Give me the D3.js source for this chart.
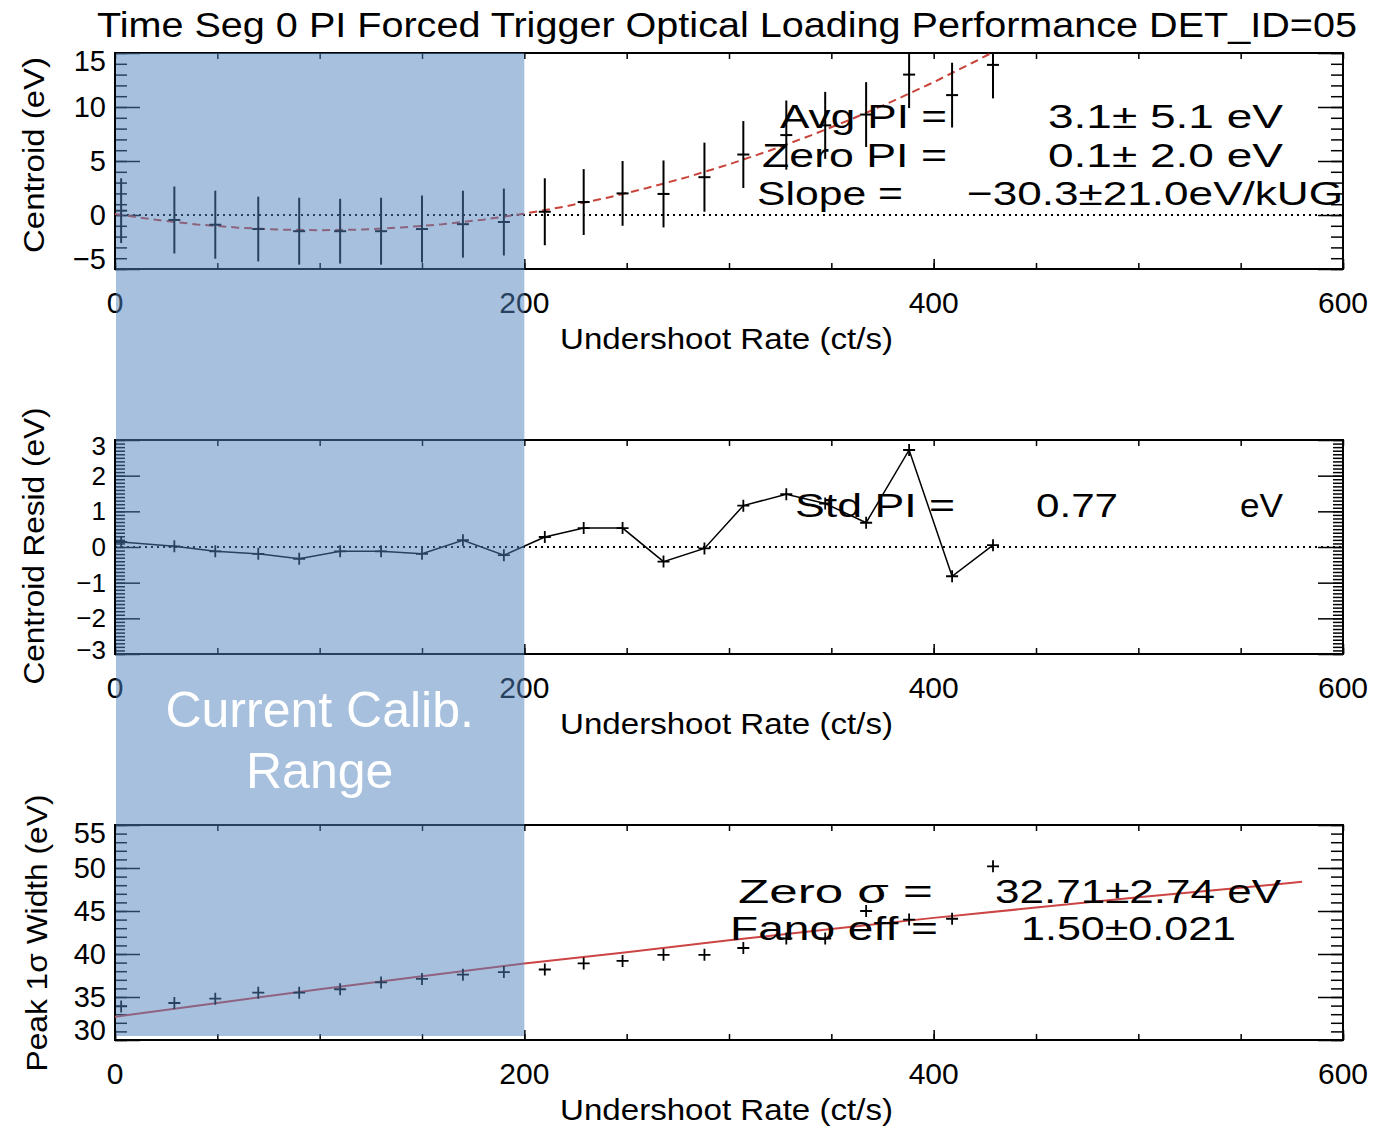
<!DOCTYPE html>
<html>
<head>
<meta charset="utf-8">
<script src="https://cdn.jsdelivr.net/npm/d3@7"></script>
<style>
  body { margin: 0; background: #fff; }
  svg text { font-family: "Liberation Sans", Arial, sans-serif; fill: #000; }
</style>
</head>
<body>
<svg width="1387" height="1127"></svg>
<script>
/**************************  DATA **************************/
// undershoot rate bin centres (ct/s)
var rate = [3, 29, 49, 70, 90, 110, 130, 150, 170, 190, 210, 229, 248, 268, 288, 307, 328, 347, 367, 388, 409, 429];

// panel 1: centroid (eV) with half error bar
var centroid    = [0.4, -0.46, -0.9, -1.3, -1.5, -1.5, -1.5, -1.3, -0.85, -0.65, 0.3, 1.2, 2.0, 1.95, 3.5, 5.6, 7.4, 8.3, 9.3, 13.0, 11.1, 13.9];
var centroidErr = [3.0, 3.1, 3.15, 3.0, 3.1, 3.0, 3.1, 3.1, 3.1, 3.1, 3.1, 3.05, 3.0, 3.1, 3.2, 3.1, 3.2, 3.1, 3.0, 3.1, 3.0, 3.1];

// red dashed fit, sampled along the drawn curve
var fitRate     = [0, 20, 40, 60, 80, 100, 120, 140, 160, 180, 200, 220, 240, 260, 280, 300, 320, 340, 360, 380, 400, 420, 428];
var centroidFit = [0.1, -0.45, -0.87, -1.17, -1.35, -1.41, -1.35, -1.16, -0.86, -0.43, 0.12, 0.79, 1.58, 2.50, 3.53, 4.69, 5.97, 7.37, 8.89, 10.54, 12.30, 14.19, 14.98];

// panel 2: centroid residual (eV)
var resid = [0.14, 0.02, -0.12, -0.19, -0.33, -0.12, -0.12, -0.19, 0.19, -0.23, 0.28, 0.53, 0.53, -0.41, -0.04, 1.16, 1.48, 1.22, 0.68, 2.72, -0.82, 0.05];

// panel 3: peak 1 sigma width (eV) and red fit line
var peakWidth    = [33.9, 34.3, 34.8, 35.5, 35.5, 35.9, 36.7, 37.1, 37.6, 37.9, 38.2, 38.9, 39.2, 39.9, 39.9, 40.7, 41.8, 41.8, 45.0, 44.0, 44.1, 50.2];
var widthFitRate = [0, 50, 100, 150, 200, 250, 300, 350, 400, 450, 500, 550, 580];
var widthFit     = [32.7, 34.3, 35.9, 37.4, 38.9, 40.2, 41.6, 42.9, 44.2, 45.4, 46.6, 47.7, 48.4];

// axes
var xTickVals = [0, 200, 400, 600];
var topTicks  = [15, 10, 5, 0, -5];
var midTicks  = [3, 2, 1, 0, -1, -2, -3];
var botTicks  = [55, 50, 45, 40, 35, 30];
var yTitles   = ["Centroid (eV)", "Centroid Resid (eV)", "Peak 1\u03c3 Width (eV)"];
var xTitle    = "Undershoot Rate (ct/s)";
var mainTitle = "Time Seg 0 PI Forced Trigger Optical Loading Performance DET_ID=05";
var calibRange = [0, 200];
var calibLabel = ["Current Calib.", "Range"];

// fit annotations
var topNotes = ["Avg PI =", "3.1\u00b1 5.1 eV", "Zero PI =", "0.1\u00b1 2.0 eV", "Slope =", "\u221230.3\u00b121.0eV/kUG"];
var midNotes = ["Std PI =", "0.77", "eV"];
var botNotes = ["Zero \u03c3  =", "32.71\u00b12.74 eV", "Fano eff =", "1.50\u00b10.021"];

/**************************  LAYOUT **************************/
var svg = d3.select("svg");
var PL = 115, PR = 1343;
var x = d3.scaleLinear().domain([0, 600]).range([PL, PR]);

// lpad = how far the end tick labels are pulled inside the box
var panels = [
  {top: 53,  bot: 269,  dom: [-5, 15], major: 5, minor: 1,   minorLen: 12, ticks: topTicks, fs: 29, lpad: [8, 10], tx: 44, ty: 155, tlen: 196},
  {top: 440, bot: 654,  dom: [-3, 3],  major: 1, minor: 0.1, minorLen: 10, ticks: midTicks, fs: 26, lpad: [6, 4],  tx: 44, ty: 546, tlen: 277},
  {top: 825, bot: 1040, dom: [30, 55], major: 5, minor: 1,   minorLen: 12, ticks: botTicks, fs: 29, lpad: [8, 10], tx: 47, ty: 933, tlen: 277}
];
panels.forEach(function(p) {
  p.y = d3.scaleLinear().domain(p.dom).range([p.bot, p.top]);
});

// helper: piece of text stretched to a width, like the IDL vector font
function txt(s, x0, x1, base, size) {
  svg.append("text")
    .attr("x", x0).attr("y", base)
    .attr("font-size", size)
    .attr("textLength", x1 - x0)
    .attr("lengthAdjust", "spacingAndGlyphs")
    .text(s);
}

function styleAxis(g) {
  g.select(".domain").remove();
  g.selectAll("line").attr("stroke", "#000").attr("stroke-width", 1.5);
}

// title
txt(mainTitle, 97, 1357, 37, 35);

/**************************  AXES / BOXES **************************/
for (var i = 0; i < panels.length; i++) {
  var p = panels[i];
  var minors = d3.range(p.dom[0], p.dom[1] + p.minor / 2, p.minor);
  var majors = minors.filter(function(v) { return Math.abs(v / p.major - Math.round(v / p.major)) < 1e-6; });

  // y ticks both sides, pointing in
  svg.append("g").attr("transform", "translate(" + PL + ",0)")
    .call(d3.axisLeft(p.y).tickValues(minors).tickSize(-p.minorLen).tickFormat("")).call(styleAxis);
  svg.append("g").attr("transform", "translate(" + PL + ",0)")
    .call(d3.axisLeft(p.y).tickValues(majors).tickSize(-25).tickFormat("")).call(styleAxis);
  svg.append("g").attr("transform", "translate(" + PR + ",0)")
    .call(d3.axisRight(p.y).tickValues(minors).tickSize(-p.minorLen).tickFormat("")).call(styleAxis);
  svg.append("g").attr("transform", "translate(" + PR + ",0)")
    .call(d3.axisRight(p.y).tickValues(majors).tickSize(-25).tickFormat("")).call(styleAxis);

  // x ticks top and bottom
  svg.append("g").attr("transform", "translate(0," + p.bot + ")")
    .call(d3.axisBottom(x).tickValues(d3.range(0, 601, 50)).tickSize(-6).tickFormat("")).call(styleAxis);
  svg.append("g").attr("transform", "translate(0," + p.top + ")")
    .call(d3.axisTop(x).tickValues(d3.range(0, 601, 50)).tickSize(-6).tickFormat("")).call(styleAxis);
  svg.append("g").attr("transform", "translate(0," + p.bot + ")")
    .call(d3.axisBottom(x).tickValues(xTickVals).tickSize(-10).tickFormat("")).call(styleAxis);

  // box
  svg.append("rect")
    .attr("x", PL).attr("y", p.top)
    .attr("width", PR - PL).attr("height", p.bot - p.top)
    .attr("fill", "none").attr("stroke", "#000").attr("stroke-width", 2);

  // y tick labels (end labels pulled inside the box like IDL)
  p.ticks.forEach(function(v) {
    var ly = Math.max(p.top + p.lpad[0], Math.min(p.bot - p.lpad[1], p.y(v)));
    svg.append("text")
      .attr("x", 106).attr("y", ly + p.fs * 0.35)
      .attr("text-anchor", "end").attr("font-size", p.fs)
      .text(v < 0 ? "\u2212" + Math.abs(v) : v);
  });

  // x tick labels
  xTickVals.forEach(function(v) {
    svg.append("text")
      .attr("x", x(v)).attr("y", p.bot + 44)
      .attr("text-anchor", "middle").attr("font-size", 30)
      .text(v);
  });

  txt(xTitle, 560, 893, p.bot + 80, 30);

  // rotated y title
  svg.append("text")
    .attr("transform", "translate(" + p.tx + "," + p.ty + ") rotate(-90)")
    .attr("text-anchor", "middle").attr("font-size", 30)
    .attr("textLength", p.tlen).attr("lengthAdjust", "spacingAndGlyphs")
    .text(yTitles[i]);

  // clip for the data
  svg.append("clipPath").attr("id", "clip" + i)
    .append("rect").attr("x", PL).attr("y", p.top)
    .attr("width", PR - PL).attr("height", p.bot - p.top);
}

// dotted zero lines
[0, 1].forEach(function(k) {
  svg.append("line")
    .attr("x1", PL).attr("x2", PR)
    .attr("y1", panels[k].y(0)).attr("y2", panels[k].y(0))
    .attr("stroke", "#000").attr("stroke-width", 2)
    .attr("stroke-dasharray", "2,4");
});

/**************************  PANEL 1: centroid **************************/
var p1 = panels[0];
var g1 = svg.append("g").attr("clip-path", "url(#clip0)");

g1.append("path")
  .attr("d", d3.line()
    .x(function(d, j) { return x(fitRate[j]); })
    .y(function(d) { return p1.y(d); })(centroidFit))
  .attr("fill", "none").attr("stroke", "#c8443a").attr("stroke-width", 2)
  .attr("stroke-dasharray", "8,5");

for (var j = 0; j < rate.length; j++) {
  g1.append("line")
    .attr("x1", x(rate[j])).attr("x2", x(rate[j]))
    .attr("y1", p1.y(centroid[j] - centroidErr[j]))
    .attr("y2", p1.y(centroid[j] + centroidErr[j]))
    .attr("stroke", "#000").attr("stroke-width", 2);
  g1.append("line")
    .attr("x1", x(rate[j]) - 6).attr("x2", x(rate[j]) + 6)
    .attr("y1", p1.y(centroid[j])).attr("y2", p1.y(centroid[j]))
    .attr("stroke", "#000").attr("stroke-width", 2);
}

txt(topNotes[0], 780, 947, 128, 34);
txt(topNotes[1], 1048, 1283, 128, 34);
txt(topNotes[2], 762, 947, 167, 34);
txt(topNotes[3], 1048, 1283, 167, 34);
txt(topNotes[4], 757, 903, 205, 34);
txt(topNotes[5], 967, 1343, 205, 34);

/**************************  PANEL 2: residual **************************/
var p2 = panels[1];
var g2 = svg.append("g").attr("clip-path", "url(#clip1)");

g2.append("path")
  .attr("d", d3.line()
    .x(function(d, j) { return x(rate[j]); })
    .y(function(d) { return p2.y(d); })(resid))
  .attr("fill", "none").attr("stroke", "#000").attr("stroke-width", 1.5);

function plus(g, cx, cy) {
  g.append("path")
    .attr("d", "M" + (cx - 6) + "," + cy + "H" + (cx + 6) + "M" + cx + "," + (cy - 6) + "V" + (cy + 6))
    .attr("stroke", "#000").attr("stroke-width", 1.8).attr("fill", "none");
}
for (var j = 0; j < rate.length; j++) plus(g2, x(rate[j]), p2.y(resid[j]));

txt(midNotes[0], 795, 955, 517, 34);
txt(midNotes[1], 1036, 1118, 517, 34);
txt(midNotes[2], 1240, 1283, 517, 34);

/**************************  PANEL 3: peak width **************************/
var p3 = panels[2];
var g3 = svg.append("g").attr("clip-path", "url(#clip2)");

g3.append("path")
  .attr("d", d3.line()
    .x(function(d, j) { return x(widthFitRate[j]); })
    .y(function(d) { return p3.y(d); })(widthFit))
  .attr("fill", "none").attr("stroke", "#cc4444").attr("stroke-width", 2);

for (var j = 0; j < rate.length; j++) plus(g3, x(rate[j]), p3.y(peakWidth[j]));

txt(botNotes[0], 738, 933, 903, 34);
txt(botNotes[1], 995, 1281, 903, 34);
txt(botNotes[2], 730, 938, 940, 34);
txt(botNotes[3], 1021, 1236, 940, 34);

/**************************  CALIBRATION RANGE OVERLAY **************************/
svg.append("rect")
  .attr("x", x(calibRange[0]) + 1)
  .attr("y", p1.top)
  .attr("width", x(calibRange[1]) - x(calibRange[0]) - 1)
  .attr("height", p3.bot - 4 - p1.top)
  .attr("fill", "#4f81bd").attr("opacity", 0.5);

var cx = (x(calibRange[0]) + x(calibRange[1])) / 2;
svg.append("text")
  .attr("x", cx).attr("y", 727)
  .attr("text-anchor", "middle").attr("font-size", 50)
  .style("fill", "#fff")
  .text(calibLabel[0]);
svg.append("text")
  .attr("x", cx).attr("y", 788)
  .attr("text-anchor", "middle").attr("font-size", 50)
  .style("fill", "#fff")
  .text(calibLabel[1]);
</script>
</body>
</html>
